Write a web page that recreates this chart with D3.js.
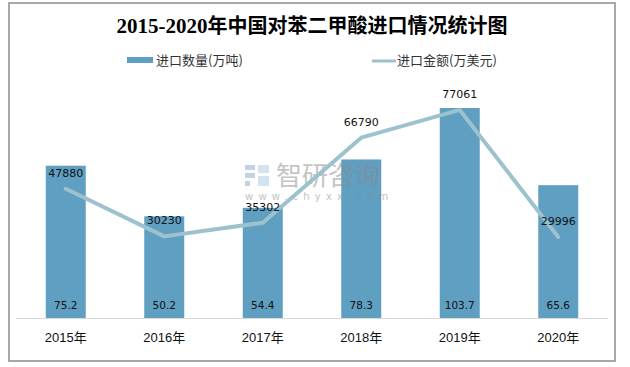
<!DOCTYPE html>
<html><head><meta charset="utf-8">
<script src="https://cdn.jsdelivr.net/npm/d3@7"></script>
<style>body{margin:0;background:#fff}svg{display:block}</style>
</head><body>
<svg id="c" width="630" height="367"></svg>
<script>
const years = ["2015年","2016年","2017年","2018年","2019年","2020年"];
const volume = [75.2, 50.2, 54.4, 78.3, 103.7, 65.6];
const amount = [47880, 30230, 35302, 66790, 77061, 29996];
const titleLead = "2015-2020";
const titleRest = "年中国对苯二甲酸进口情况统计图";
const legendNames = ["进口数量(万吨)", "进口金额(万美元)"];

const svg = d3.select("#c");
const barColor = "#5f9fc1", lineColor = "#9dc1cd";

// frame
svg.append("rect").attr("x",9).attr("y",3).attr("width",606).attr("height",358)
  .attr("fill","#fff").attr("stroke","#8c8c8c").attr("stroke-width",1.5);

const x = d3.scaleBand().domain(years).range([16.5,607.5]).paddingInner(0.594).paddingOuter(0.297);
const yL = d3.scaleLinear().domain([0,120]).range([318,75]);
const yR = d3.scaleLinear().domain([0,90000]).range([318,75]);

// title
const t = svg.append("text").attr("x",312).attr("y",33).attr("text-anchor","middle").attr("fill","#000");
t.append("tspan").attr("font-family","'Liberation Serif',serif").attr("font-weight","bold")
  .attr("font-size",21).text(titleLead);
t.append("tspan").attr("font-family","'Noto Sans CJK SC',sans-serif").attr("font-weight","bold")
  .attr("font-size",20).text(titleRest);

// legend
svg.append("rect").attr("x",127).attr("y",57).attr("width",26).attr("height",6).attr("fill",barColor);
svg.append("text").attr("x",156).attr("y",65).attr("font-family","'Noto Sans CJK SC',sans-serif")
  .attr("font-size",13).attr("fill","#333").text(legendNames[0]);
svg.append("line").attr("x1",372).attr("x2",396).attr("y1",61).attr("y2",61)
  .attr("stroke",lineColor).attr("stroke-width",3);
svg.append("text").attr("x",397).attr("y",65).attr("font-family","'Noto Sans CJK SC',sans-serif")
  .attr("font-size",13).attr("fill","#333").text(legendNames[1]);

// bars
svg.append("g").selectAll("rect").data(volume).join("rect")
  .attr("x",(d,i)=>x(years[i])).attr("width",x.bandwidth())
  .attr("y",d=>yL(d)).attr("height",d=>yL(0)-yL(d)).attr("fill",barColor);

// watermark (over bars)
const wm = svg.append("g").attr("opacity",0.5);
wm.append("rect").attr("x",245).attr("y",165).attr("width",10).attr("height",5).attr("fill","#8fa3c8");
wm.append("rect").attr("x",245).attr("y",173).attr("width",10).attr("height",5).attr("fill","#8fa3c8");
wm.append("rect").attr("x",245).attr("y",181).attr("width",5).attr("height",5).attr("fill","#8fa3c8");
wm.append("rect").attr("x",258).attr("y",165).attr("width",11).attr("height",8).attr("fill","#a9c8e6");
wm.append("rect").attr("x",258).attr("y",176).attr("width",11).attr("height",10).attr("fill","#a9c8e6");
wm.append("text").attr("x",276).attr("y",185).attr("font-family","'Noto Sans CJK SC',sans-serif")
  .attr("font-size",26).attr("fill","#8a8a8a").text("智研咨询");
wm.append("text").attr("x",245).attr("y",200).attr("font-family","'DejaVu Sans',sans-serif")
  .attr("font-size",10).attr("letter-spacing",5.2).attr("fill","#8a8a8a").text("www.chyxx.com");

// axis line
svg.append("line").attr("x1",16).attr("x2",608).attr("y1",318.5).attr("y2",318.5)
  .attr("stroke","#d9d9d9").attr("stroke-width",1);

// x labels via axis
const xAxis = svg.append("g").attr("transform","translate(0,318)")
  .call(d3.axisBottom(x).tickSize(0).tickPadding(15));
xAxis.select(".domain").remove();
xAxis.selectAll("text").attr("font-family","'Liberation Sans','Noto Sans CJK SC',sans-serif")
  .attr("font-size",13).attr("fill","#111");

// bar labels
svg.append("g").selectAll("text").data(volume).join("text")
  .attr("x",(d,i)=>x(years[i])+x.bandwidth()/2).attr("y",309)
  .attr("text-anchor","middle").attr("font-family","'DejaVu Sans',sans-serif")
  .attr("font-size",10.5).attr("fill","#111").text(d=>d);

// line
const line = d3.line().x((d,i)=>x(years[i])+x.bandwidth()/2).y(d=>yR(d));
svg.append("path").datum(amount).attr("d",line).attr("fill","none")
  .attr("stroke",lineColor).attr("stroke-width",4).attr("stroke-linecap","round").attr("stroke-linejoin","round");

// line labels
svg.append("g").selectAll("text").data(amount).join("text")
  .attr("x",(d,i)=>x(years[i])+x.bandwidth()/2).attr("y",d=>yR(d)-12)
  .attr("text-anchor","middle").attr("font-family","'DejaVu Sans',sans-serif")
  .attr("font-size",11).attr("fill","#111").text(d=>d);
</script>
</body></html>
